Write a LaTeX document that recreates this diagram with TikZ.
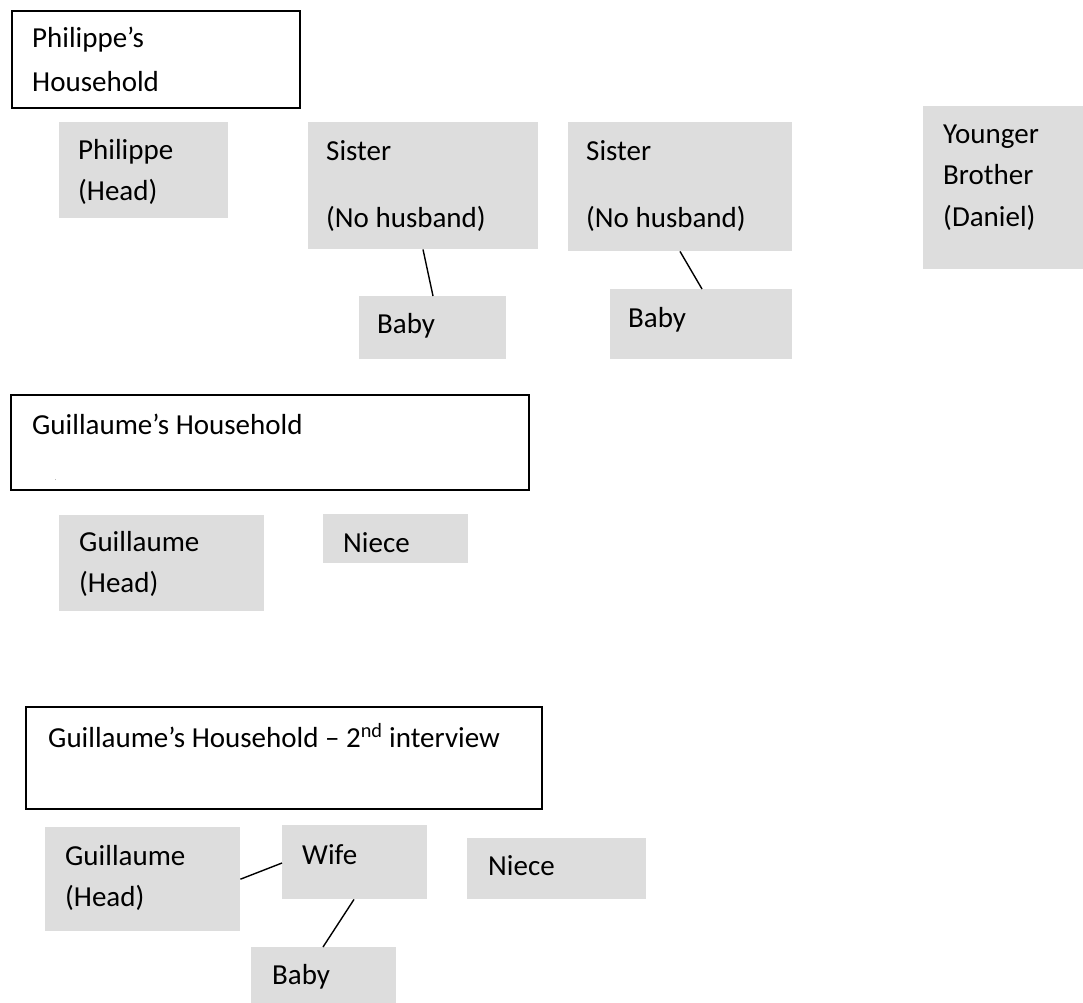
\documentclass[tikz,border=0pt]{standalone}
\usepackage{fontspec}
\setmainfont{Carlito}
\definecolor{boxfill}{RGB}{221,221,221}
\begin{document}
\begin{tikzpicture}[x=1pt,y=-1pt,
  frame/.style={draw=black, line width=1.6pt, fill=white, inner sep=0pt, anchor=north west},
  member/.style={fill=boxfill, draw=none, inner sep=0pt, anchor=north west},
  % multi-line texts are placed by the baseline of their last line
  words/.style={anchor=base west, inner sep=0pt, align=left, font=\fontsize{29}{41}\selectfont},
  tie/.style={line width=1.4pt, draw=black}]
\useasboundingbox (0,0) rectangle (1083,1002);

% ---------- Philippe's household ----------
\node[frame, minimum width=288pt, minimum height=97pt] (phh) at (11,10) {};
\node[words, font=\fontsize{29}{44}\selectfont] (phhT) at ([shift={(21,81)}]phh.north west) {Philippe’s\\Household};

\node[member, minimum width=169pt, minimum height=96pt] (phil) at (59,122) {};
\node[words] (philT) at ([shift={(19,78)}]phil.north west) {Philippe\\(Head)};

\node[member, minimum width=230pt, minimum height=127pt] (sis1) at (308,122) {};
\node[words] (sis1T) at ([shift={(18,105)}]sis1.north west) {Sister\\[26pt](No husband)};

\node[member, minimum width=224pt, minimum height=129pt] (sis2) at (568,122) {};
\node[words] (sis2T) at ([shift={(18,105)}]sis2.north west) {Sister\\[26pt](No husband)};

\node[member, minimum width=160pt, minimum height=163pt] (bro) at (923,106) {};
\node[words, font=\fontsize{29}{41.5}\selectfont] (broT) at ([shift={(20,120)}]bro.north west) {Younger\\Brother\\(Daniel)};

\node[member, minimum width=147pt, minimum height=63pt] (baby1) at (359,296) {};
\node[words] (baby1T) at ([shift={(18,37)}]baby1.north west) {Baby};

\node[member, minimum width=182pt, minimum height=70pt] (baby2) at (610,289) {};
\node[words] (baby2T) at ([shift={(18,38)}]baby2.north west) {Baby};

\draw[tie] ([shift={(115,0)}]sis1.south west) -- ([shift={(74,0)}]baby1.north west);
\draw[tie] ([shift={(112,0)}]sis2.south west) -- ([shift={(92,0)}]baby2.north west);

% ---------- Guillaume's household ----------
\node[frame, minimum width=518pt, minimum height=95pt] (gh) at (10,394) {};
\node[words] (ghT) at ([shift={(22,40)}]gh.north west) {Guillaume’s Household};
\node[anchor=base west, inner sep=0pt, font=\fontsize{5}{5}\selectfont] (ghDot) at ([shift={(45,86)}]gh.north west) {.};

\node[member, minimum width=205pt, minimum height=96pt] (guil1) at (59,515) {};
\node[words] (guil1T) at ([shift={(20,77)}]guil1.north west) {Guillaume\\(Head)};

\node[member, minimum width=145pt, minimum height=49pt] (niece1) at (323,514) {};
\node[words] (niece1T) at ([shift={(20,38)}]niece1.north west) {Niece};

% ---------- Guillaume's household, second interview ----------
\node[frame, minimum width=516pt, minimum height=102pt] (gh2) at (25,706) {};
\node[words] (gh2T) at ([shift={(23,41)}]gh2.north west) {Guillaume’s Household – 2\textsuperscript{nd} interview};

\node[member, minimum width=195pt, minimum height=104pt] (guil2) at (45,827) {};
\node[words] (guil2T) at ([shift={(20,79)}]guil2.north west) {Guillaume\\(Head)};

\node[member, minimum width=145pt, minimum height=74pt] (wife) at (282,825) {};
\node[words] (wifeT) at ([shift={(20,39)}]wife.north west) {Wife};

\node[member, minimum width=179pt, minimum height=61pt] (niece2) at (467,838) {};
\node[words] (niece2T) at ([shift={(21,37)}]niece2.north west) {Niece};

\node[member, minimum width=145pt, minimum height=56pt] (baby3) at (251,947) {};
\node[words] (baby3T) at ([shift={(21,37)}]baby3.north west) {Baby};

\draw[tie] (guil2.east) -- ([shift={(0,38)}]wife.north west);
\draw[tie] ([shift={(72,0)}]wife.south west) -- ([shift={(72,0)}]baby3.north west);
\end{tikzpicture}
\end{document}
